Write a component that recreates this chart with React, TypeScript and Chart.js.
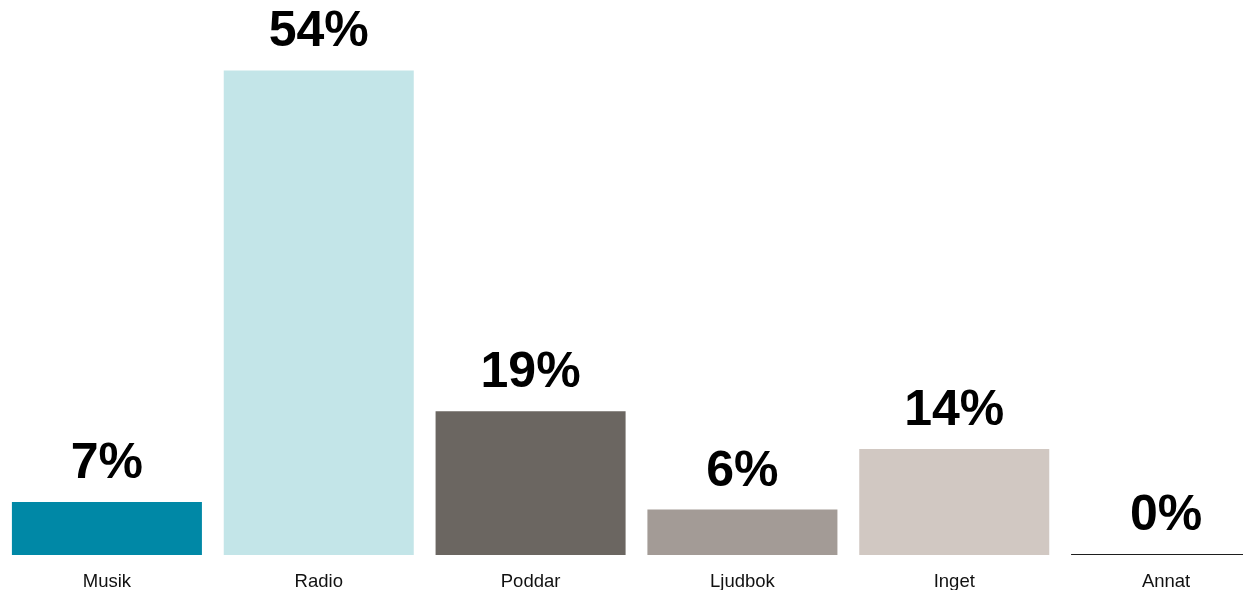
import React, { useEffect, useRef } from "react";
import { Chart, registerables } from "chart.js";

Chart.register(...registerables);

const categories = ["Musik", "Radio", "Poddar", "Ljudbok", "Inget", "Annat"];
// bar heights as drawn in the picture
const barValues = [7, 64, 19, 6, 14, 0];
// printed labels above the bars
const valueLabels = ["7%", "54%", "19%", "6%", "14%", "0%"];
const barColors = ["#0088a6", "#c3e5e8", "#6b6661", "#a39b96", "#d1c8c2", "#1e1e1e"];

const labelPlugin = {
  id: "barLabels",
  afterDatasetsDraw(chart: any) {
    const ctx = chart.ctx;
    const meta = chart.getDatasetMeta(0);
    const area = chart.chartArea;
    ctx.save();
    ctx.textAlign = "center";
    ctx.textBaseline = "alphabetic";
    meta.data.forEach((bar: any, i: number) => {
      ctx.fillStyle = "#000";
      ctx.font = "bold 50px 'Liberation Sans', Arial, sans-serif";
      ctx.fillText(valueLabels[i], bar.x, bar.y - 24);
      ctx.fillStyle = "#111";
      ctx.font = "18.5px 'Liberation Sans', Arial, sans-serif";
      ctx.fillText(categories[i], bar.x, area.bottom + 32);
    });
    ctx.restore();
  },
};

export default function App() {
  const ref = useRef<HTMLCanvasElement>(null);
  useEffect(() => {
    if (!ref.current) return;
    const chart = new Chart(ref.current, {
      type: "bar",
      data: {
        labels: categories,
        datasets: [
          {
            data: barValues,
            backgroundColor: barColors,
            borderWidth: 0,
            minBarLength: 1,
            barPercentage: 0.897,
            categoryPercentage: 1,
          },
        ],
      },
      options: {
        animation: false,
        responsive: false,
        maintainAspectRatio: false,
        layout: { padding: { left: 1, right: 0, top: 0, bottom: 35 } },
        plugins: { legend: { display: false }, tooltip: { enabled: false } },
        scales: {
          x: { display: false },
          y: { display: false, min: 0, max: 73.3 },
        },
      },
      plugins: [labelPlugin],
    });
    return () => chart.destroy();
  }, []);
  return (
    <div
      style={{
        position: "fixed",
        left: 0,
        top: 0,
        width: "100vw",
        height: "100vh",
        overflow: "hidden",
        background: "#fff",
      }}
    >
      <canvas ref={ref} width={1272} height={590} style={{ display: "block" }} />
    </div>
  );
}
